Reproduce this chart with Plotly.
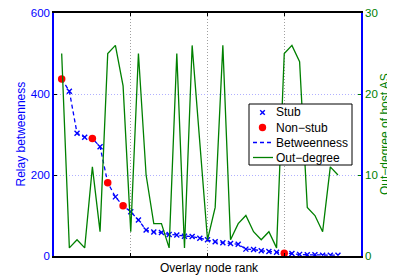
import plotly.graph_objects as go

rank = list(range(1, 38))
betweenness = [437, 407, 303, 293, 290, 270, 181, 146, 124, 109, 89, 64, 59, 58, 53,
               52, 49, 48, 44, 40, 35, 33, 31, 29, 17, 16, 13, 11, 9, 7, 6, 4, 3, 3,
               2, 2, 2]
out_degree = [25, 1, 2, 1, 11, 3, 25, 26, 21, 3, 25, 10, 4, 4, 1, 25, 1, 26, 14, 2,
              6, 26, 2, 4, 5, 3, 2, 3, 1, 25, 26, 24, 6, 5, 3, 11, 10]
nonstub_ranks = [1, 5, 7, 9, 30]
legend_labels = ["Stub", "Non−stub", "Betweenness", "Out−degree"]

stub_x = [r for r in rank if r not in nonstub_ranks]
stub_y = [betweenness[r - 1] for r in stub_x]
ns_x = nonstub_ranks
ns_y = [betweenness[r - 1] for r in ns_x]

FONT = "Liberation Sans, Arial, Helvetica, sans-serif"
BLUE = "#0000ff"
GREEN = "#008000"
RED = "#ff0000"

# page body has an 8px margin, so the figure is sized to fit the window
W, H = 387, 270
ML, MR, MT, MB = 46, 34, 5, 22
PW, PH = W - ML - MR, H - MT - MB


def px(xp):  # page-pixel x -> paper
    return (xp - 8 - ML) / PW


def py(yp):  # page-pixel y -> paper
    return (H - MB - (yp - 8)) / PH


fig = go.Figure()
fig.add_trace(go.Scatter(x=rank, y=betweenness, mode="lines", name="Betweenness",
                         line=dict(color=BLUE, dash="4px,3px", width=1.3),
                         showlegend=False))
fig.add_trace(go.Scatter(x=stub_x, y=stub_y, mode="markers", name="Stub",
                         marker=dict(symbol="x-thin", size=5, color=BLUE,
                                     line=dict(color=BLUE, width=1.4)),
                         showlegend=False))
fig.add_trace(go.Scatter(x=ns_x, y=ns_y, mode="markers", name="Non−stub",
                         marker=dict(symbol="circle", size=7.5, color=RED),
                         showlegend=False))
fig.add_trace(go.Scatter(x=rank, y=out_degree, mode="lines", name="Out−degree",
                         line=dict(color=GREEN, width=1.3), yaxis="y2",
                         showlegend=False))

# custom legend (box, keys, labels)
box_l, box_r, box_t, box_b = px(249), px(352), py(104), py(165)
row_y = [py(112.5), py(127.5), py(142.5), py(157.5)]
key_cx = px(262.5)
key_l, key_r = px(253), px(273)
text_x = px(274)

shapes = [
    dict(type="rect", xref="paper", yref="paper", x0=box_l, x1=box_r,
         y0=box_b, y1=box_t, fillcolor="white",
         line=dict(color="black", width=1), layer="above"),
    # stub key (x)
    dict(type="line", xref="paper", yref="paper", xsizemode="pixel",
         ysizemode="pixel", xanchor=key_cx, yanchor=row_y[0],
         x0=-2.3, x1=2.3, y0=-2.3, y1=2.3, line=dict(color=BLUE, width=1.4),
         layer="above"),
    dict(type="line", xref="paper", yref="paper", xsizemode="pixel",
         ysizemode="pixel", xanchor=key_cx, yanchor=row_y[0],
         x0=-2.3, x1=2.3, y0=2.3, y1=-2.3, line=dict(color=BLUE, width=1.4),
         layer="above"),
    # non-stub key (dot)
    dict(type="circle", xref="paper", yref="paper", xsizemode="pixel",
         ysizemode="pixel", xanchor=key_cx, yanchor=row_y[1],
         x0=-3.7, x1=3.7, y0=-3.7, y1=3.7, fillcolor=RED,
         line=dict(color=RED, width=0), layer="above"),
    # betweenness key (dashed)
    dict(type="line", xref="paper", yref="paper", x0=key_l, x1=key_r,
         y0=row_y[2], y1=row_y[2],
         line=dict(color=BLUE, width=1.3, dash="4px,3px"), layer="above"),
    # out-degree key (solid)
    dict(type="line", xref="paper", yref="paper", x0=key_l, x1=key_r,
         y0=row_y[3], y1=row_y[3],
         line=dict(color=GREEN, width=1.3), layer="above"),
]

annotations = [
    dict(text=lab, xref="paper", yref="paper", x=text_x, y=yy,
         xanchor="left", yanchor="middle", showarrow=False,
         font=dict(size=12, color="black"))
    for lab, yy in zip(legend_labels, row_y)
] + [
    dict(text="Overlay node rank", xref="paper", yref="paper",
         x=px(209), y=py(268), xanchor="center", yanchor="middle",
         showarrow=False, font=dict(size=12, color="black")),
    dict(text="Relay betweenness", xref="paper", yref="paper",
         x=px(20.5), y=py(134), xanchor="center", yanchor="middle",
         textangle=-90, showarrow=False, font=dict(size=12, color=BLUE)),
    dict(text="Out−degree of host AS", xref="paper", yref="paper",
         x=px(385), y=py(134), xanchor="center", yanchor="middle",
         textangle=-90, showarrow=False, font=dict(size=12, color=GREEN)),
]

fig.update_layout(
    width=W, height=H,
    margin=dict(l=ML, r=MR, t=MT, b=MB, autoexpand=False),
    paper_bgcolor="white", plot_bgcolor="white",
    font=dict(family=FONT, size=11.5, color="black"),
    showlegend=False,
    xaxis=dict(range=[0, 40], tickvals=[10, 20, 30], showticklabels=False,
               automargin=False,
               ticks="inside", ticklen=3, tickcolor="black",
               showline=True, linecolor="black", linewidth=1.5, mirror="ticks",
               showgrid=True, gridcolor="#a0a0a0", griddash="1px,2px", gridwidth=1,
               zeroline=False),
    yaxis=dict(range=[0, 600], tickvals=[0, 200, 400, 600], automargin=False,
               ticklabeloverflow="allow",
               ticks="inside", ticklen=3, tickcolor="black",
               tickfont=dict(color=BLUE, size=11.5),
               showline=True, linecolor=BLUE, linewidth=1.5,
               showgrid=True, gridcolor="#b0b0ff", griddash="1px,2px", gridwidth=1,
               zeroline=False),
    yaxis2=dict(range=[0, 30], tickvals=[0, 10, 20, 30], overlaying="y",
                automargin=False, ticklabeloverflow="allow",
                side="right", ticks="inside", ticklen=3, tickcolor=GREEN,
                tickfont=dict(color=GREEN, size=11.5),
                showline=True, linecolor=BLUE, linewidth=1.5,
                showgrid=False, zeroline=False),
    shapes=shapes,
    annotations=annotations,
)

fig.write_html("out.html")
